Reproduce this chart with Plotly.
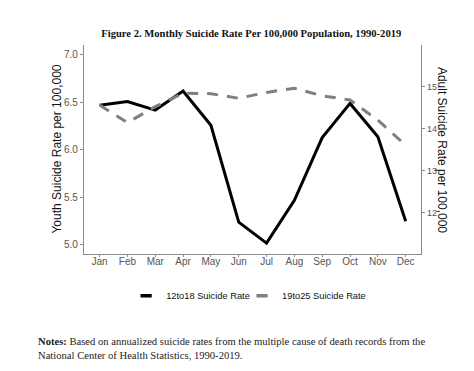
import plotly.graph_objects as go

months = ["Jan", "Feb", "Mar", "Apr", "May", "Jun", "Jul", "Aug", "Sep", "Oct", "Nov", "Dec"]
youth_rate = [6.47, 6.51, 6.42, 6.62, 6.26, 5.24, 5.02, 5.47, 6.13, 6.49, 6.14, 5.25]
adult_rate = [14.56, 14.14, 14.52, 14.84, 14.83, 14.72, 14.86, 14.96, 14.78, 14.68, 14.20, 13.60]
youth_ticks = [5.0, 5.5, 6.0, 6.5, 7.0]
adult_ticks = [12, 13, 14, 15]
series_names = ["12to18 Suicide Rate", "19to25 Suicide Rate"]

BLACK = "#000000"
GREY = "#7f7f7f"
AXIS = "#8a8a8a"
TICKFONT = dict(family="Liberation Sans, Arial, sans-serif", size=10, color="#555555")
LEGFONT = dict(family="Liberation Sans, Arial, sans-serif", size=9.3, color="#111111")

fig = go.Figure()
fig.add_trace(go.Scatter(x=months, y=youth_rate, mode="lines", yaxis="y",
                         line=dict(color=BLACK, width=3), showlegend=False))
fig.add_trace(go.Scatter(x=months, y=adult_rate, mode="lines", yaxis="y2",
                         line=dict(color=GREY, width=3, dash="11px,9px"), showlegend=False))
# legend entries (short line symbols)
fig.add_trace(go.Scatter(x=[None], y=[None], mode="markers", name=series_names[0], legend="legend",
                         marker=dict(symbol="line-ew-open", size=8, color=BLACK,
                                     line=dict(color=BLACK, width=3.5))))
fig.add_trace(go.Scatter(x=[None], y=[None], mode="markers", name=series_names[1], legend="legend2",
                         marker=dict(symbol="line-ew-open", size=8, color=GREY,
                                     line=dict(color=GREY, width=3.5))))

# page body has an 8px margin, so the figure is drawn 8px smaller and offset
fig.update_layout(
    width=466, height=363,
    margin=dict(l=76, r=53, t=37, b=117),
    paper_bgcolor="white", plot_bgcolor="white",
    title=dict(text="<b>Figure 2. Monthly Suicide Rate Per 100,000 Population, 1990-2019</b>",
               x=0.522, y=0.931, xanchor="center", yanchor="middle",
               font=dict(family="Liberation Serif, Times New Roman, serif", size=10.6, color="#111111")),
    xaxis=dict(type="category", categoryorder="array", categoryarray=months,
               range=[-0.56, 11.55], showline=True, linecolor=AXIS, linewidth=1.2,
               ticks="outside", ticklen=2, tickcolor=AXIS, showgrid=False, zeroline=False,
               ticklabelstandoff=-4, tickfont=TICKFONT),
    yaxis=dict(range=[4.905, 7.105], tickvals=youth_ticks, ticktext=[f"{v:.1f}" for v in youth_ticks],
               showline=True, linecolor=AXIS, linewidth=1.2, ticks="outside", ticklen=3,
               tickcolor=AXIS, showgrid=False, zeroline=False, tickfont=TICKFONT),
    yaxis2=dict(range=[11.01, 15.99], tickvals=adult_ticks, ticktext=[str(v) for v in adult_ticks],
                overlaying="y", side="right", showline=True, linecolor=AXIS, linewidth=1.2,
                ticks="outside", ticklen=3, tickcolor=AXIS, showgrid=False, zeroline=False,
                tickfont=dict(family="Liberation Sans, Arial, sans-serif", size=9, color="#555555")),
    legend=dict(orientation="h", x=0.125, xanchor="left", y=-0.2, yanchor="middle",
                font=LEGFONT, itemwidth=30, bgcolor="rgba(0,0,0,0)"),
    legend2=dict(orientation="h", x=0.469, xanchor="left", y=-0.2, yanchor="middle",
                 font=LEGFONT, itemwidth=30, bgcolor="rgba(0,0,0,0)"),
    annotations=[
        dict(text="Youth Suicide Rate per 100,000", xref="paper", yref="paper",
             x=-0.083, y=0.5, xanchor="center", yanchor="middle", textangle=-90, showarrow=False,
             font=dict(family="Liberation Sans, Arial, sans-serif", size=12, color="#111111")),
        dict(text="Adult Suicide Rate per 100,000", xref="paper", yref="paper",
             x=1.064, y=0.5, xanchor="center", yanchor="middle", textangle=90, showarrow=False,
             font=dict(family="Liberation Sans, Arial, sans-serif", size=12, color="#111111")),
        dict(text="<b>Notes:</b> Based on annualized suicide rates from the multiple cause of death records from the<br>"
                  "National Center of Health Statistics, 1990-2019.",
             xref="paper", yref="paper", x=-0.142, y=-0.385, xanchor="left", yanchor="top",
             align="left", showarrow=False,
             font=dict(family="Liberation Serif, Times New Roman, serif", size=10.6, color="#222222")),
    ],
)

fig.write_html("out.html")
